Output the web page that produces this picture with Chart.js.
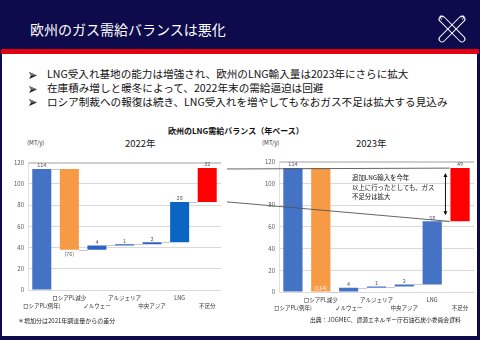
<!DOCTYPE html>
<html><head><meta charset="utf-8">
<script src="https://cdn.jsdelivr.net/npm/chart.js@4.4.1/dist/chart.umd.min.js"></script>
<style>
html,body{margin:0;padding:0;}
body{width:480px;height:340px;overflow:hidden;position:relative;background:#0d0b4c;font-family:"Noto Sans CJK JP","Noto Sans",sans-serif;}
#content{position:absolute;left:2px;top:54px;width:475px;height:282px;background:#fff;}
#redline{position:absolute;left:1px;top:49px;width:478px;height:5px;background:#e3000f;}
.abs{position:absolute;white-space:nowrap;}
#title{left:30px;top:19px;color:#fff;font-size:14px;line-height:20px;}
.bl{left:29px;font-size:10.6px;line-height:13px;color:#111;}
.bl svg{display:inline-block;width:8px;height:7px;margin-right:10px;vertical-align:-0.5px;}
#ctitle{left:168px;top:125px;font-size:8px;font-weight:bold;line-height:12px;color:#111;}
.unit{font-size:6px;line-height:8px;color:#333;}
.yr{font-size:9.5px;line-height:12px;color:#222;}
.note{font-size:6px;line-height:8px;color:#222;}
#anno{left:352px;top:173px;font-size:6.4px;line-height:9.5px;color:#111;}
canvas{position:absolute;}
</style></head>
<body>
<div id="redline"></div>
<div id="content"></div>
<div class="abs" id="title">欧州のガス需給バランスは悪化</div>
<svg class="abs" style="left:437px;top:14px" width="30" height="30" viewBox="0 0 30 30">
  <g fill="none" stroke="#fff" stroke-width="1">
    <rect x="-2" y="12" width="34" height="6" rx="3" transform="rotate(45 15 15)"/>
    <rect x="-2" y="12" width="34" height="6" rx="3" transform="rotate(-45 15 15)"/>
    <path d="M3 2 L4.5 5.5 M3 2 L6.5 3"/>
    <path d="M27 2 L25.5 5.5 M27 2 L23.5 3"/>
  </g>
</svg>
<div class="abs bl" style="top:67px"><svg viewBox="0 0 8 7"><polygon points="0,0 8,3.5 0,7 2,3.5" fill="#222"/><polygon points="0,0 8,3.5 2,3.5" fill="#777"/></svg>LNG受入れ基地の能力は増強され、欧州のLNG輸入量は2023年にさらに拡大</div>
<div class="abs bl" style="top:81px"><svg viewBox="0 0 8 7"><polygon points="0,0 8,3.5 0,7 2,3.5" fill="#222"/><polygon points="0,0 8,3.5 2,3.5" fill="#777"/></svg>在庫積み増しと暖冬によって、2022年末の需給逼迫は回避</div>
<div class="abs bl" style="top:94.5px"><svg viewBox="0 0 8 7"><polygon points="0,0 8,3.5 0,7 2,3.5" fill="#222"/><polygon points="0,0 8,3.5 2,3.5" fill="#777"/></svg>ロシア制裁への報復は続き、LNG受入れを増やしてもなおガス不足は拡大する見込み</div>
<div class="abs" id="ctitle">欧州のLNG需給バランス（年ベース）</div>
<div class="abs unit" style="left:27px;top:139px">(MT/y)</div>
<div class="abs yr" style="left:125px;top:137px">2022年</div>
<div class="abs unit" style="left:262px;top:139px">(MT/y)</div>
<div class="abs yr" style="left:356px;top:137px">2023年</div>
<canvas id="c1" width="225" height="157" style="left:0;top:155px"></canvas>
<canvas id="c2" width="228" height="160" style="left:250px;top:154px"></canvas>
<canvas id="ov" width="480" height="340" style="left:0;top:0"></canvas>
<div class="abs" id="anno">追加LNG輸入を今年<br>以上に行ったとしても、ガス<br>不足分は拡大</div>
<div class="abs note" style="left:18px;top:317px">＊増加分は2021年調達量からの差分</div>
<div class="abs note" style="left:310px;top:316px;font-size:5.8px">出典：JOGMEC、資源エネルギー庁石油石炭小委員会資料</div>
<script>
const categories = ['ロシアPL(例年)', 'ロシアPL減少', 'ノルウェー', 'アルジェリア', '中央アジア', 'LNG', '不足分'];
const values2022 = [114, -76, 4, 1, 2, 38, 32];
const values2023 = [114, -114, 4, 1, 2, 58, 49];
const yTicks = [0, 20, 40, 60, 80, 100, 120];
const colors2022 = ['#4472c4', '#f79a46', '#2f62c4', '#2f62c4', '#2f62c4', '#0a66c2', '#ff0000'];
const colors2023 = ['#4472c4', '#f79a46', '#4472c4', '#4472c4', '#4472c4', '#4472c4', '#ff0000'];

Chart.defaults.font.family = '"Noto Sans CJK JP", "Noto Sans", sans-serif';
Chart.defaults.animation = false;

function waterfall(vals) {
  let run = 0;
  return vals.map((v, i) => {
    const s = run; run += v;
    return [Math.min(s, run), Math.max(s, run)];
  });
}
function runningTotals(vals) { let r = 0; return vals.map(v => (r += v)); }

const valueLabels = {
  id: 'valueLabels',
  afterDatasetsDraw(chart, args, opts) {
    const meta = chart.getDatasetMeta(0), ctx = chart.ctx, vals = opts.values;
    const tot = runningTotals(vals), ys = chart.scales.y;
    ctx.save();
    ctx.strokeStyle = '#c8c8c8'; ctx.lineWidth = 1;
    for (let i = 0; i < meta.data.length - 1; i++) {
      const a = meta.data[i], b = meta.data[i + 1];
      const y = Math.round(ys.getPixelForValue(tot[i])) + 0.5;
      ctx.beginPath(); ctx.moveTo(a.x + a.width / 2, y); ctx.lineTo(b.x - b.width / 2, y); ctx.stroke();
    }
    ctx.font = '5.5px "Noto Sans CJK JP"'; ctx.textAlign = 'center';
    meta.data.forEach((bar, i) => {
      const v = vals[i];
      const txt = v < 0 ? '(' + (-v) + ')' : String(v);
      const top = Math.min(bar.y, bar.base), bot = Math.max(bar.y, bar.base);
      if (v >= 0) { ctx.fillStyle = '#595959'; ctx.textBaseline = 'bottom'; ctx.fillText(txt, bar.x, top - 1); }
      else if (bot >= chart.chartArea.bottom - 1) { ctx.fillStyle = '#ffffff'; ctx.textBaseline = 'bottom'; ctx.fillText(txt, bar.x, bot - 0.5); }
      else { ctx.fillStyle = '#595959'; ctx.textBaseline = 'top'; ctx.fillText(txt, bar.x, bot + 1.5); }
    });
    ctx.restore();
  }
};

function makeChart(id, vals, colors, yWidth, pad) {
  return new Chart(document.getElementById(id), {
    type: 'bar',
    data: {
      labels: categories.map((c, i) => i % 2 === 1 ? [c, ''] : ['', c]),
      datasets: [{ data: waterfall(vals), backgroundColor: colors, borderWidth: 0, barPercentage: 0.69, categoryPercentage: 1 }]
    },
    options: {
      responsive: false,
      layout: { padding: pad },
      plugins: { legend: { display: false }, tooltip: { enabled: false }, valueLabels: { values: vals } },
      scales: {
        x: {
          grid: { display: false, drawTicks: false },
          border: { display: false },
          ticks: { autoSkip: false, maxRotation: 0, minRotation: 0, padding: 4, color: '#333', font: { size: 5.5, lineHeight: 1.4 } },
          afterFit: s => { s.height = 22; }
        },
        y: {
          min: 0, max: 120,
          afterBuildTicks: s => { s.ticks = yTicks.map(v => ({ value: v })); },
          grid: { color: c => c.tick && c.tick.value === 120 ? '#cfcfcf' : '#d9d9d9', lineWidth: c => c.tick && c.tick.value === 120 ? 2 : 1, drawTicks: false },
          border: { display: true, color: '#e0e0e0' },
          ticks: { padding: 4, color: '#595959', font: { size: 6 } },
          afterFit: s => { s.width = yWidth; }
        }
      }
    },
    plugins: [valueLabels]
  });
}

const chartL = makeChart('c1', values2022, colors2022, 28, { top: 5.5, right: 4, left: 0, bottom: 0 });
const chartR = makeChart('c2', values2023, colors2023, 29, { top: 5, right: 4, left: 0, bottom: 0 });

function drawOverlay() {
  const cv = document.getElementById('ov'), ctx = cv.getContext('2d');
  const cL = document.getElementById('c1'), cR = document.getElementById('c2');
  const oL = { x: cL.offsetLeft, y: cL.offsetTop }, oR = { x: cR.offsetLeft, y: cR.offsetTop };
  const n = categories.length;
  const demandL = values2022[0], demandR = values2023[0];
  const supplyL = runningTotals(values2022)[n - 2], supplyR = runningTotals(values2023)[n - 2];
  const barR = chartR.getDatasetMeta(0).data[n - 1];
  const x0 = oL.x + chartL.chartArea.right + 6;
  const x1 = oR.x + barR.x - barR.width / 2 - 1;
  const yTL = oL.y + chartL.scales.y.getPixelForValue(demandL);
  const yTR = oR.y + chartR.scales.y.getPixelForValue(demandR);
  const yBL = oL.y + chartL.scales.y.getPixelForValue(supplyL);
  const yBR = oR.y + chartR.scales.y.getPixelForValue(supplyR);
  ctx.strokeStyle = '#555'; ctx.lineWidth = 0.9;
  ctx.beginPath(); ctx.moveTo(x0, yTL); ctx.lineTo(x1, yTR); ctx.stroke();
  ctx.beginPath(); ctx.moveTo(x0, yBL); ctx.lineTo(x1, yBR); ctx.stroke();
  const ax = x1 - 4, ay0 = yTR + 5, ay1 = yBR - 6;
  ctx.strokeStyle = '#111'; ctx.fillStyle = '#111'; ctx.lineWidth = 1;
  ctx.beginPath(); ctx.moveTo(ax, ay0 + 2); ctx.lineTo(ax, ay1 - 2); ctx.stroke();
  ctx.beginPath(); ctx.moveTo(ax, ay0); ctx.lineTo(ax - 2, ay0 + 4); ctx.lineTo(ax + 2, ay0 + 4); ctx.closePath(); ctx.fill();
  ctx.beginPath(); ctx.moveTo(ax, ay1); ctx.lineTo(ax - 2, ay1 - 4); ctx.lineTo(ax + 2, ay1 - 4); ctx.closePath(); ctx.fill();
}
drawOverlay();
</script>
</body></html>
